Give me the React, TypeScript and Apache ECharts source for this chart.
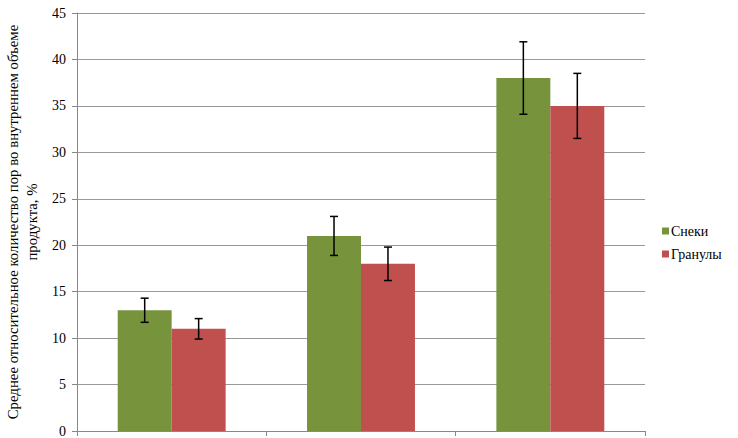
import React, { useEffect, useRef } from "react";
import * as echarts from "echarts";

const categories = ["1", "2", "3"];
const snacks = [13, 21, 38];
const snacksErr = [1.3, 2.1, 3.9];
const granules = [11, 18, 35];
const granulesErr = [1.1, 1.8, 3.5];
const seriesNames = ["Снеки", "Гранулы"];
const yTicks = [0, 5, 10, 15, 20, 25, 30, 35, 40, 45];

const GREEN = "#77933C";
const RED = "#C0504D";
const FONT = "Liberation Serif, serif";
const CAT_GAP = 0.43;

function errorSeries(values: number[], errs: number[], side: number) {
  return {
    type: "custom",
    silent: true,
    z: 10,
    data: values.map((v, i) => [i, v - errs[i], v + errs[i]]),
    renderItem: (params: any, api: any) => {
      const idx = api.value(0);
      const lo = api.coord([idx, api.value(1)]);
      const hi = api.coord([idx, api.value(2)]);
      const catW = api.size([1, 0])[0];
      const bw = (catW * (1 - CAT_GAP)) / 2;
      const x = lo[0] + (side * bw) / 2;
      const cap = 4;
      const style = { stroke: "#000", lineWidth: 1.5 };
      return {
        type: "group",
        children: [
          { type: "line", shape: { x1: x, y1: lo[1], x2: x, y2: hi[1] }, style },
          { type: "line", shape: { x1: x - cap, y1: hi[1], x2: x + cap, y2: hi[1] }, style },
          { type: "line", shape: { x1: x - cap, y1: lo[1], x2: x + cap, y2: lo[1] }, style },
        ],
      };
    },
  };
}

export default function App() {
  const ref = useRef<HTMLDivElement>(null);
  useEffect(() => {
    if (!ref.current) return;
    document.body.style.margin = "0";
    const chart = echarts.init(ref.current, null, { renderer: "svg" });
    chart.setOption({
      animation: false,
      backgroundColor: "#fff",
      textStyle: { fontFamily: FONT },
      grid: { left: 77, right: 93, top: 13, bottom: 7, containLabel: false, outerBoundsMode: "none" },
      legend: {
        orient: "vertical",
        left: 657,
        top: 219,
        itemWidth: 7,
        itemHeight: 7,
        itemGap: 9,
        icon: "rect",
        data: seriesNames,
        textStyle: { fontFamily: FONT, fontSize: 14, color: "#000", padding: [0, 0, 0, -3] },
      },
      xAxis: {
        type: "category",
        data: categories,
        axisLine: { show: true, lineStyle: { color: "#888", width: 1 } },
        axisTick: { show: true, alignWithLabel: false, length: 5, lineStyle: { color: "#888" } },
        axisLabel: { show: false },
        splitLine: { show: false },
      },
      yAxis: {
        type: "value",
        min: yTicks[0],
        max: yTicks[yTicks.length - 1],
        interval: 5,
        name: "Среднее относительное количество пор во внутреннем объеме\nпродукта, %",
        nameLocation: "middle",
        nameGap: 33,
        nameTextStyle: { fontFamily: FONT, fontSize: 14.8, color: "#000", lineHeight: 19 },
        axisLine: { show: true, lineStyle: { color: "#888", width: 1 } },
        axisTick: { show: true, length: 5, lineStyle: { color: "#888" } },
        axisLabel: { fontFamily: FONT, fontSize: 14, color: "#000", margin: 11 },
        splitLine: { show: true, lineStyle: { color: "#999", width: 1 } },
      },
      series: [
        {
          name: seriesNames[0],
          type: "bar",
          data: snacks,
          itemStyle: { color: GREEN },
          barGap: "0%",
          barCategoryGap: CAT_GAP * 100 + "%",
        },
        {
          name: seriesNames[1],
          type: "bar",
          data: granules,
          itemStyle: { color: RED },
          barGap: "0%",
          barCategoryGap: CAT_GAP * 100 + "%",
        },
        errorSeries(snacks, snacksErr, -1),
        errorSeries(granules, granulesErr, 1),
      ],
    });
    return () => chart.dispose();
  }, []);
  return <div ref={ref} style={{ width: 738, height: 438 }} />;
}
